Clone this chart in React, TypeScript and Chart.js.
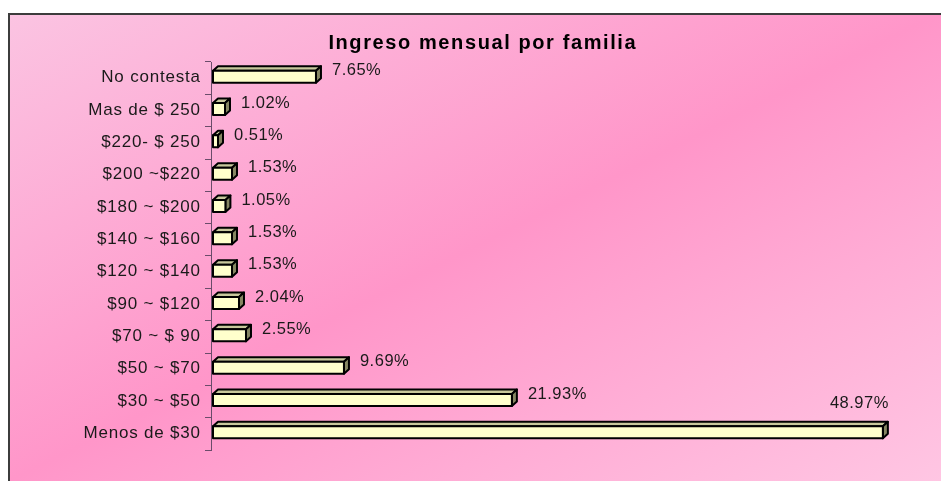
import React, { useEffect, useRef } from "react";
import { Chart, registerables } from "chart.js";

Chart.register(...registerables);

const TITLE = "Ingreso mensual por familia";
const categories = [
  "No contesta",
  "Mas de $ 250",
  "$220- $ 250",
  "$200 ~$220",
  "$180 ~ $200",
  "$140 ~ $160",
  "$120 ~ $140",
  "$90 ~ $120",
  "$70 ~ $ 90",
  "$50 ~ $70",
  "$30 ~ $50",
  "Menos de $30",
];
const percentages = [7.65, 1.02, 0.51, 1.53, 1.05, 1.53, 1.53, 2.04, 2.55, 9.69, 21.93, 48.97];
const valueLabels = ["7.65%", "1.02%", "0.51%", "1.53%", "1.05%", "1.53%", "1.53%", "2.04%", "2.55%", "9.69%", "21.93%", "48.97%"];
const xMax = 50;

const FONT = '"Liberation Sans", Arial, sans-serif';
const AXIS_COLOR = "#6a4c6a";
const TEXT_COLOR = "#1a1a1a";

const framePlugin = {
  id: "frame",
  beforeDraw(chart: any) {
    const { ctx, width, height } = chart;
    ctx.save();
    ctx.fillStyle = "#ffffff";
    ctx.fillRect(0, 0, width, height);
    const g = ctx.createLinearGradient(287, -127, 663, 621);
    g.addColorStop(0, "#fbc4e2");
    g.addColorStop(0.5, "#ff96c9");
    g.addColorStop(1, "#ffc6e3");
    ctx.fillStyle = g;
    ctx.fillRect(9, 13, width - 9, height - 13);
    ctx.fillStyle = "#3c3c3c";
    ctx.fillRect(8, 13, width - 8, 2);
    ctx.fillRect(8, 13, 2, height - 13);
    ctx.restore();
  },
};

const barsPlugin = {
  id: "bars3d",
  afterDatasetsDraw(chart: any) {
    const { ctx } = chart;
    const meta = chart.getDatasetMeta(0);
    const yScale = chart.scales.y;
    ctx.save();

    // category labels
    ctx.font = `17px ${FONT}`;
    ctx.fillStyle = TEXT_COLOR;
    ctx.textBaseline = "alphabetic";
    (ctx as any).letterSpacing = "0.8px";
    ctx.textAlign = "left";
    categories.forEach((label, i) => {
      const y = yScale.getPixelForTick(i);
      const w = ctx.measureText(label).width - 0.8;
      ctx.fillText(label, 200 - w, y + 4);
    });

    // 3D bars
    const dx = 5;
    const dy = 4.5;
    meta.data.forEach((el: any, i: number) => {
      const p = el.getProps(["x", "y", "base", "height"], true);
      const h = p.height;
      const x0 = p.base + 2;
      const x1 = p.x;
      const y0 = p.y - h / 2 - 1.5;
      const y1 = y0 + h;
      ctx.lineWidth = 2;
      ctx.strokeStyle = "#000000";
      ctx.lineJoin = "round";
      // top face
      ctx.beginPath();
      ctx.moveTo(x0, y0);
      ctx.lineTo(x0 + dx, y0 - dy);
      ctx.lineTo(x1 + dx, y0 - dy);
      ctx.lineTo(x1, y0);
      ctx.closePath();
      ctx.fillStyle = "#c8c89c";
      ctx.fill();
      ctx.stroke();
      // side face
      ctx.beginPath();
      ctx.moveTo(x1, y0);
      ctx.lineTo(x1 + dx, y0 - dy);
      ctx.lineTo(x1 + dx, y1 - dy);
      ctx.lineTo(x1, y1);
      ctx.closePath();
      ctx.fillStyle = "#868662";
      ctx.fill();
      ctx.stroke();
      // front face
      ctx.fillStyle = "#ffffcc";
      ctx.fillRect(x0, y0, x1 - x0, h);
      ctx.strokeRect(x0, y0, x1 - x0, h);

      // value label
      ctx.font = `16.5px ${FONT}`;
      (ctx as any).letterSpacing = "0.5px";
      ctx.fillStyle = TEXT_COLOR;
      const txt = valueLabels[i];
      const tw = ctx.measureText(txt).width;
      let lx = x1 + dx + 11;
      let ly = p.y - 3;
      if (lx + tw > chart.width - 4) {
        lx = x1 + dx + 1 - tw;
        ly = y0 - dy - 14;
      }
      ctx.fillText(txt, lx, ly);
    });

    // title
    ctx.font = `bold 20px ${FONT}`;
    (ctx as any).letterSpacing = "1.6px";
    ctx.fillStyle = "#000000";
    const tw = ctx.measureText(TITLE).width - 1.6;
    ctx.fillText(TITLE, 482 - tw / 2, 49);
    ctx.restore();
  },
};

export default function App() {
  const ref = useRef<HTMLCanvasElement | null>(null);

  useEffect(() => {
    if (!ref.current) return;
    const chart = new Chart(ref.current, {
      type: "bar",
      data: {
        labels: categories,
        datasets: [
          {
            data: percentages,
            backgroundColor: "rgba(0,0,0,0)",
            borderWidth: 0,
            barThickness: 12,
          },
        ],
      },
      options: {
        indexAxis: "y",
        responsive: false,
        animation: false,
        devicePixelRatio: 1,
        layout: { padding: { top: 62, bottom: 31, left: 0, right: 44 } },
        scales: {
          x: { display: false, min: 0, max: xMax },
          y: {
            afterFit: (s: any) => {
              s.width = 211;
            },
            ticks: { color: "rgba(0,0,0,0)", font: { size: 17, family: FONT }, padding: 7 },
            grid: {
              drawOnChartArea: false,
              drawTicks: true,
              tickLength: 6,
              color: AXIS_COLOR,
              lineWidth: 1,
              offset: true,
            },
            border: { display: true, color: AXIS_COLOR, width: 1 },
          },
        },
        plugins: {
          legend: { display: false },
          title: { display: false },
          tooltip: { enabled: false },
        },
      } as any,
      plugins: [framePlugin, barsPlugin],
    });
    return () => chart.destroy();
  }, []);

  return (
    <div style={{ position: "fixed", left: 0, top: 0, width: 941, height: 481, overflow: "hidden" }}>
      <canvas ref={ref} width={941} height={481} style={{ display: "block", width: 941, height: 481 }} />
    </div>
  );
}
